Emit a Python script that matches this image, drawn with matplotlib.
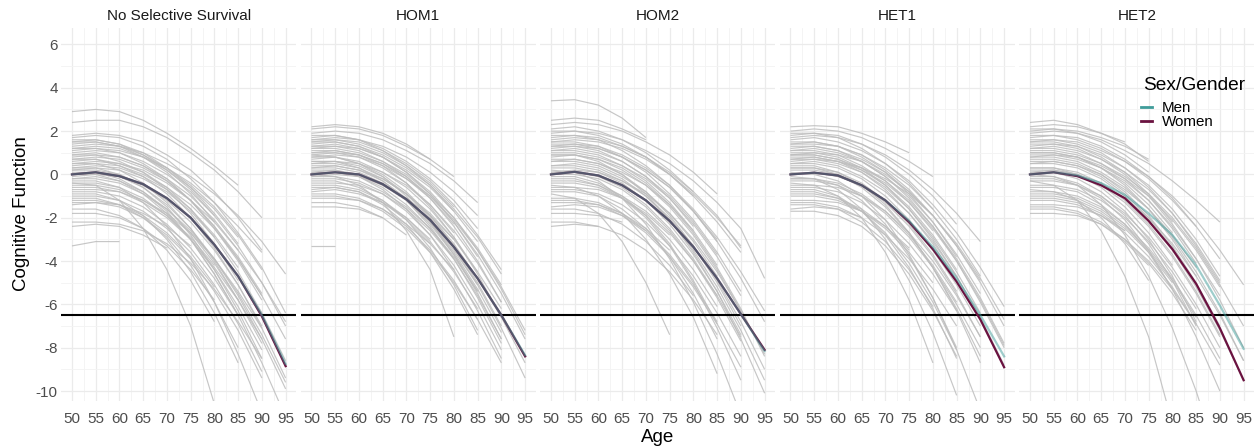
import matplotlib.pyplot as plt
from matplotlib.lines import Line2D
from matplotlib.ticker import MultipleLocator

plt.rcParams['font.family'] = ['Liberation Sans', 'DejaVu Sans']
plt.rcParams['axes.unicode_minus'] = False

# ages at which trajectories are evaluated
ages = [50, 55, 60, 65, 70, 75, 80, 85, 90, 95]
scenarios = ['No Selective Survival', 'HOM1', 'HOM2', 'HET1', 'HET2']
threshold = -6.5

# mean cognitive function by scenario
men_mean = {
    'No Selective Survival': [0.0, 0.1, -0.08, -0.45, -1.1, -2.0, -3.25, -4.7, -6.5, -8.75],
    'HOM1': [0.0, 0.1, 0.0, -0.45, -1.15, -2.1, -3.35, -4.8, -6.5, -8.35],
    'HOM2': [0.0, 0.12, -0.05, -0.5, -1.2, -2.15, -3.35, -4.8, -6.45, -8.15],
    'HET1': [0.0, 0.08, -0.05, -0.5, -1.2, -2.15, -3.35, -4.8, -6.5, -8.4],
    'HET2': [0.0, 0.1, -0.05, -0.4, -0.95, -1.8, -2.8, -4.2, -6.05, -8.05],
}
women_mean = {
    'No Selective Survival': [0.0, 0.1, -0.08, -0.45, -1.1, -2.0, -3.25, -4.7, -6.55, -8.85],
    'HOM1': [0.0, 0.1, 0.0, -0.45, -1.15, -2.1, -3.35, -4.8, -6.5, -8.4],
    'HOM2': [0.0, 0.12, -0.05, -0.5, -1.2, -2.15, -3.35, -4.8, -6.45, -8.1],
    'HET1': [0.0, 0.08, -0.05, -0.5, -1.2, -2.2, -3.45, -4.95, -6.7, -8.9],
    'HET2': [0.0, 0.1, -0.08, -0.5, -1.1, -2.15, -3.45, -5.05, -7.1, -9.5],
}

# individual trajectories (values every 5 years from age 50 until drop-out)
people_no_sel = [
    [2.9, 3.0, 2.9, 2.5, 1.9, 1.2, 0.4, -0.5],
    [2.4, 2.5, 2.5, 2.2, 1.7, 1.0, 0.2, -0.8, -2.0],
    [1.8, 1.9, 1.8, 1.5, 0.9, 0.2, -0.8, -2.0, -3.5],
    [1.7, 1.8, 1.7, 1.3, 0.7, -0.2, -1.3, -2.7, -4.3, -6.4],
    [1.5, 1.6, 1.4, 1.0, 0.3, -0.6, -1.8, -3.2],
    [1.4, 1.5, 1.3, 0.8, 0.1, -0.9, -2.2],
    [1.3, 1.4, 1.3, 1.0, 0.5, -0.1, -0.9, -1.9, -3.1, -4.6],
    [1.2, 1.2, 1.0, 0.5, -0.2, -1.2, -2.5, -4.0, -5.8],
    [1.0, 1.1, 1.0, 0.6, 0.0, -0.8, -1.9, -3.3, -5.0, -7.0],
    [0.9, 0.9, 0.6, 0.1, -0.7, -1.8, -3.2, -4.9],
    [0.8, 0.9, 0.8, 0.4, -0.2, -1.0, -2.1, -3.5],
    [0.6, 0.7, 0.5, 0.1, -0.6, -1.6, -2.9, -4.5, -6.4, -8.6],
    [0.5, 0.5, 0.2, -0.4, -1.3, -2.5, -4.0, -5.8],
    [0.4, 0.5, 0.4, 0.0, -0.6, -1.4, -2.5, -3.9, -5.6],
    [0.3, 0.3, 0.0, -0.6, -1.5, -2.8, -4.4, -6.3, -8.5],
    [0.2, 0.3, 0.2, -0.2, -0.8, -1.7, -2.9],
    [0.1, 0.1, -0.2, -0.8, -1.7, -3.0, -4.6, -6.5, -8.7, -11.2],
    [-0.1, 0.0, -0.1, -0.5, -1.1, -2.0, -3.2, -4.7, -6.4],
    [-0.3, -0.3, -0.6, -1.3, -2.4, -3.9, -5.9, -8.3, -11.0],
    [-0.4, -0.4, -0.6, -1.1, -1.9, -3.0, -4.4, -6.1, -8.1],
    [-0.4, -0.5, -1.2, -2.5, -4.4, -7.0, -10.6, -14.8],
    [-0.6, -0.6, -0.8, -1.3, -2.0, -3.0, -4.3, -5.8, -7.6],
    [-0.8, -0.8, -1.0, -1.5, -2.3, -3.4, -4.8, -6.5],
    [-1.0, -1.0, -1.2, -1.7, -2.5, -3.6, -5.1, -6.9, -9.1],
    [-1.2, -1.2, -1.4, -1.9, -2.7, -3.8, -5.2],
    [-1.4, -1.3, -1.5, -2.0, -2.8, -3.9, -5.4, -7.2, -9.4],
    [-1.6, -1.6, -1.9, -2.5, -3.5, -4.9, -6.8],
    [-2.2, -2.2, -2.3, -2.6, -3.2, -4.1, -5.3, -6.8, -8.5],
    [-2.4, -2.3, -2.4, -2.8, -3.4],
    [-3.3, -3.1, -3.1],
    [1.1, 1.2, 1.1, 0.8, 0.3, -0.4, -1.3, -2.4, -3.6],
    [0.0, 0.1, -0.1, -0.6, -1.4, -2.5, -3.9, -5.6, -7.6, -9.9],
    [-0.2, -0.1, -0.3, -0.8, -1.6, -2.7, -4.1, -5.8, -7.8],
    [0.7, 0.8, 0.7, 0.3, -0.3, -1.2, -2.4, -3.9, -5.6, -7.6],
    [1.6, 1.6, 1.4, 0.9, 0.2, -0.7, -1.9],
    [-0.9, -0.9, -1.2, -1.9, -3.0, -4.5, -6.4, -8.7],
    [1.2, 1.3, 1.2, 0.8, 0.2, -0.6, -1.6, -2.9],
    [0.9, 1.0, 0.8, 0.4, -0.3, -1.2, -2.4, -3.8, -5.5],
    [0.5, 0.6, 0.5, 0.2, -0.4, -1.2, -2.2, -3.5, -5.0, -6.8],
    [0.3, 0.4, 0.3, -0.1, -0.7, -1.6, -2.8, -4.3],
    [0.0, 0.0, -0.3, -0.9, -1.8, -3.0, -4.6, -6.5],
    [-0.2, -0.2, -0.4, -0.9, -1.6, -2.6, -3.9, -5.5, -7.4, -9.6],
    [-0.5, -0.5, -0.7, -1.2, -1.9, -2.9, -4.2],
    [-0.7, -0.7, -0.8, -1.2, -1.8, -2.7, -3.9, -5.4, -7.1],
    [-1.1, -1.1, -1.4, -2.0, -2.9, -4.2, -5.9, -8.0],
    [-1.3, -1.3, -1.4, -1.8, -2.4, -3.3],
    [1.5, 1.5, 1.3, 0.9, 0.3, -0.5, -1.5, -2.8, -4.4],
    [0.7, 0.7, 0.4, -0.1, -0.9, -2.0, -3.4, -5.1, -7.1, -9.4],
    [-1.8, -1.8, -2.0, -2.5, -3.3, -4.4, -5.8],
    [0.2, 0.2, 0.0, -0.5, -1.2, -2.2, -3.5, -5.1, -7.0],
]

people_hom1 = [
    [2.2, 2.3, 2.2, 1.9, 1.4, 0.7],
    [2.1, 2.2, 2.1, 1.8, 1.3, 0.7, -0.1],
    [1.9, 2.0, 1.9, 1.6, 1.1, 0.5, -0.3, -1.3],
    [1.7, 1.8, 1.6, 1.2, 0.6, -0.2, -1.2, -2.5],
    [1.6, 1.6, 1.5, 1.1, 0.5, -0.3, -1.4, -2.8, -4.4],
    [1.5, 1.5, 1.3, 0.8, 0.1, -0.9, -2.2, -3.8],
    [1.4, 1.5, 1.3, 0.9, 0.3, -0.5, -1.6, -2.9, -4.6],
    [1.3, 1.3, 1.1, 0.6, -0.1, -1.1, -2.4, -4.0, -5.9],
    [1.2, 1.3, 1.2, 0.8, 0.2, -0.6, -1.7],
    [1.1, 1.1, 0.9, 0.4, -0.4, -1.5, -2.9, -4.6, -6.6],
    [1.0, 1.0, 0.8, 0.3, -0.4, -1.4, -2.7],
    [0.9, 1.0, 0.9, 0.5, -0.1, -1.0, -2.2, -3.7, -5.5, -7.6],
    [0.8, 0.8, 0.5, 0.0, -0.8, -1.9, -3.3, -5.0, -7.0],
    [0.7, 0.8, 0.6, 0.1, -0.6, -1.6, -2.9, -4.5],
    [0.6, 0.6, 0.4, -0.1, -0.9, -2.0, -3.4, -5.1, -7.1, -9.4],
    [0.5, 0.5, 0.3, -0.2, -0.9, -1.9, -3.2, -4.8, -6.6, -8.7],
    [0.4, 0.4, 0.2, -0.3, -1.1, -2.2, -3.6, -5.3, -7.3],
    [0.3, 0.4, 0.2, -0.2, -0.9, -1.8, -3.0, -4.5, -6.2],
    [0.2, 0.2, -0.1, -0.7, -1.6, -2.8, -4.4, -6.3, -8.5],
    [0.1, 0.2, 0.0, -0.5, -1.2, -2.2, -3.5, -5.1],
    [0.0, -0.1, -0.5, -1.3, -2.6, -4.4, -7.5],
    [-0.2, -0.2, -0.4, -0.9, -1.7, -2.8, -4.2, -6.0, -8.1],
    [-0.3, -0.3, -0.6, -1.2, -2.1, -3.4, -5.1, -7.2],
    [-0.5, -0.5, -0.7, -1.2, -2.0, -3.1, -4.5, -6.2],
    [-0.7, -0.6, -0.8, -1.3, -2.1, -3.2],
    [-0.9, -0.9, -1.1, -1.6, -2.4, -3.5, -4.9, -6.7],
    [-1.1, -1.1, -1.2, -1.6, -2.3, -3.2, -4.4],
    [-1.3, -1.3, -1.5, -2.0, -2.8],
    [-1.5, -1.5, -1.6, -2.0],
    [-3.3, -3.3],
    [1.8, 1.8, 1.6, 1.1, 0.4, -0.5, -1.7, -3.1],
    [0.9, 0.8, 0.5, -0.1, -1.0, -2.2, -3.7, -5.5, -7.6],
    [-0.1, 0.0, -0.1, -0.5, -1.1, -1.9, -3.0],
    [1.3, 1.4, 1.2, 0.8, 0.1, -0.8, -2.0, -3.5, -5.3, -7.4],
    [1.6, 1.7, 1.6, 1.3, 0.8, 0.1, -0.8, -1.9],
    [1.2, 1.2, 1.0, 0.6, 0.0, -0.9, -2.0, -3.4, -5.1],
    [1.0, 1.1, 0.9, 0.5, -0.2, -1.1, -2.3],
    [0.8, 0.9, 0.8, 0.4, -0.2, -1.0, -2.1, -3.5, -5.2, -7.2],
    [0.5, 0.6, 0.5, 0.1, -0.5, -1.4, -2.6, -4.1, -5.9],
    [0.3, 0.3, 0.1, -0.4, -1.2, -2.3, -3.7, -5.4],
    [0.1, 0.1, -0.1, -0.6, -1.4, -2.5, -3.9, -5.6, -7.6],
    [-0.1, -0.1, -0.3, -0.8, -1.5, -2.5, -3.8, -5.4],
    [-0.4, -0.4, -0.5, -0.9, -1.6, -2.6, -3.9],
    [-0.6, -0.6, -0.8, -1.4, -2.3, -3.6, -5.3, -7.4],
    [-0.8, -0.7, -0.9, -1.3, -2.0, -3.0],
    [-1.0, -1.0, -1.2, -1.7, -2.5, -3.6, -5.0, -6.7, -8.7],
    [1.5, 1.6, 1.4, 1.0, 0.4, -0.4, -1.5],
    [0.6, 0.6, 0.3, -0.3, -1.2, -2.4, -3.9, -5.7, -7.8],
]

people_hom2 = [
    [3.4, 3.45, 3.2, 2.6, 1.7],
    [2.5, 2.6, 2.5, 2.1, 1.6],
    [2.3, 2.4, 2.3, 2.0, 1.5, 0.9, 0.1, -0.9],
    [2.1, 2.2, 2.0, 1.6, 1.0, 0.2, -0.8],
    [1.9, 2.0, 1.9, 1.6, 1.1, 0.5, -0.3, -1.3, -2.5, -4.8],
    [1.8, 1.8, 1.6, 1.1, 0.4, -0.5, -1.7, -3.1],
    [1.6, 1.7, 1.6, 1.3, 0.8, 0.1, -0.8, -1.9, -3.4],
    [1.5, 1.5, 1.3, 0.8, 0.1, -0.9, -2.1, -3.6, -5.4],
    [1.4, 1.4, 1.2, 0.8, 0.2, -0.6, -1.7, -3.0],
    [1.2, 1.3, 1.2, 0.8, 0.2, -0.6, -1.7, -3.1, -4.8, -6.8],
    [1.1, 1.1, 0.9, 0.4, -0.3, -1.3, -2.6, -4.2],
    [1.0, 1.0, 0.8, 0.4, -0.2, -1.1, -2.3, -3.8, -5.6],
    [0.8, 0.9, 0.7, 0.3, -0.4, -1.4, -2.7, -4.3, -6.2, -8.4],
    [0.7, 0.7, 0.5, 0.0, -0.8, -1.9, -3.3, -5.0, -7.0],
    [0.6, 0.6, 0.4, -0.1, -0.8, -1.8, -3.1, -4.7],
    [0.4, 0.5, 0.3, -0.2, -1.0, -2.1, -3.5, -5.2, -7.2, -9.5],
    [0.3, 0.3, 0.1, -0.4, -1.2, -2.3, -3.7, -5.4, -7.4],
    [0.2, 0.1, -0.3, -1.1, -2.3, -3.9, -5.9, -8.3, -11.1],
    [0.0, 0.0, -0.2, -0.7, -1.5, -2.6, -4.0, -5.7, -7.7],
    [-0.2, -0.2, -0.5, -1.1, -2.0, -3.3, -5.0, -7.1, -9.5],
    [-0.4, -0.4, -0.6, -1.1, -1.9, -3.0, -4.4, -6.1],
    [-0.5, -0.6, -1.0, -1.8, -3.0, -4.6, -6.6, -9.2],
    [-0.7, -0.7, -0.9, -1.4, -2.2, -3.3, -4.7, -6.4, -8.4],
    [-0.9, -1.1, -1.8, -3.1, -5.0, -7.4],
    [-1.1, -1.1, -1.3, -1.8, -2.6, -3.7, -5.1, -6.8],
    [-1.3, -1.3, -1.4, -1.8, -2.5, -3.5],
    [-1.6, -1.6, -1.8, -2.3, -3.1, -4.2, -5.6],
    [-1.8, -1.8, -1.9, -2.2],
    [-2.2, -2.2, -2.4],
    [-2.4, -2.3, -2.4, -2.8, -3.5, -4.5, -5.8, -7.4],
    [0.9, 0.9, 0.6, 0.0, -0.9, -2.1, -3.6, -5.4, -7.6, -10.1],
    [0.1, 0.2, 0.1, -0.3, -0.9, -1.8, -3.0, -4.5, -6.3, -8.3],
    [1.3, 1.3, 1.1, 0.6, -0.1, -1.1, -2.4],
    [-0.1, -0.1, -0.4, -1.0, -1.9, -3.2, -4.9, -6.9],
    [2.0, 2.0, 1.8, 1.4, 0.8, 0.0, -1.0, -2.2, -3.6],
    [1.7, 1.8, 1.7, 1.3, 0.8, 0.0, -1.0],
    [1.3, 1.4, 1.3, 0.9, 0.3, -0.5, -1.6, -2.9, -4.5, -6.3],
    [1.1, 1.2, 1.0, 0.6, -0.1, -1.0, -2.2, -3.7],
    [0.9, 0.9, 0.7, 0.2, -0.5, -1.5, -2.8, -4.4, -6.3],
    [0.6, 0.7, 0.5, 0.1, -0.5, -1.4, -2.6],
    [0.4, 0.4, 0.2, -0.3, -1.0, -2.0, -3.3, -4.9, -6.8, -9.0],
    [0.1, 0.1, -0.1, -0.6, -1.4, -2.5, -3.9, -5.6],
    [-0.3, -0.3, -0.5, -1.0, -1.7, -2.7, -4.0, -5.6, -7.5],
    [-0.6, -0.6, -0.7, -1.1, -1.8, -2.8],
    [-0.8, -0.8, -1.0, -1.6, -2.5, -3.8, -5.5, -7.6],
    [-1.2, -1.2, -1.4, -1.9, -2.7, -3.8, -5.2, -6.9, -8.9],
    [-1.5, -1.4, -1.5, -1.9, -2.6],
    [1.5, 1.6, 1.5, 1.2, 0.7, 0.0, -0.9, -2.0, -3.3],
]

people_het1 = [
    [2.2, 2.25, 2.2, 1.9, 1.5, 1.0],
    [2.0, 2.1, 2.0, 1.7, 1.2, 0.6, -0.1],
    [1.8, 1.9, 1.8, 1.4, 0.8, 0.0, -1.0, -2.3],
    [1.6, 1.7, 1.5, 1.1, 0.5, -0.3, -1.4, -2.7, -4.3, -6.1],
    [1.5, 1.5, 1.3, 0.8, 0.1, -0.9, -2.2, -3.8],
    [1.4, 1.4, 1.3, 0.9, 0.3, -0.5, -1.6, -3.0, -4.7],
    [1.2, 1.3, 1.1, 0.6, -0.1, -1.1, -2.4, -4.0, -5.9, -8.0],
    [1.1, 1.1, 0.9, 0.4, -0.3, -1.3, -2.6],
    [1.0, 1.0, 0.8, 0.3, -0.5, -1.6, -3.0, -4.7, -6.7],
    [0.9, 0.9, 0.7, 0.3, -0.3, -1.2, -2.4, -3.9, -5.7, -7.8],
    [0.8, 0.8, 0.6, 0.1, -0.7, -1.8, -3.2, -4.9],
    [0.7, 0.7, 0.5, 0.1, -0.6, -1.6, -2.9, -4.5, -6.4],
    [0.5, 0.6, 0.4, -0.1, -0.8, -1.8, -3.1, -4.7, -6.6, -8.8],
    [0.4, 0.4, 0.1, -0.5, -1.4, -2.7, -4.3, -6.3, -8.7],
    [0.3, 0.3, 0.1, -0.4, -1.2, -2.3, -3.7, -5.4],
    [0.2, 0.2, 0.0, -0.5, -1.3, -2.4, -3.8, -5.5, -7.5],
    [-0.1, -0.2, -0.7, -1.6, -3.0, -4.9, -7.3, -10.2],
    [0.1, 0.0, -0.3, -1.0, -2.1, -3.7, -5.7, -8.1, -10.9],
    [-0.3, -0.3, -0.5, -1.0, -1.8, -2.9, -4.3, -6.0, -8.0],
    [-0.4, -0.5, -1.0, -2.0, -3.6, -5.8, -8.7],
    [-0.6, -0.6, -0.8, -1.3, -2.1, -3.2, -4.6, -6.3],
    [-0.8, -0.8, -1.1, -1.7, -2.7, -4.1, -5.9, -8.1],
    [-1.0, -1.0, -1.2, -1.7, -2.5, -3.6, -5.0],
    [-1.2, -1.2, -1.3, -1.7, -2.4, -3.4],
    [-1.4, -1.4, -1.6, -2.2, -3.1, -4.4, -6.1],
    [-1.6, -1.5, -1.6, -2.0],
    [-1.7, -1.7, -1.9, -2.4, -3.3, -4.6, -6.3, -8.4],
    [1.9, 1.9, 1.7, 1.2, 0.5, -0.4, -1.6],
    [0.6, 0.7, 0.6, 0.3, -0.2, -0.9, -1.9, -3.2, -4.8, -6.7],
    [1.3, 1.3, 1.1, 0.7, 0.1, -0.8, -1.9, -3.3, -4.9],
    [-0.2, -0.2, -0.5, -1.2, -2.3, -3.8, -5.7, -8.0],
    [0.9, 1.0, 0.9, 0.6, 0.0, -0.8, -1.9, -3.3, -5.0, -7.0],
    [1.7, 1.8, 1.7, 1.4, 0.9, 0.2, -0.7, -1.8, -3.1],
    [1.4, 1.5, 1.3, 0.9, 0.2, -0.7, -1.9],
    [1.1, 1.2, 1.0, 0.6, -0.1, -1.0, -2.2, -3.7, -5.5],
    [0.9, 0.9, 0.7, 0.2, -0.5, -1.5, -2.8, -4.4],
    [0.7, 0.8, 0.6, 0.2, -0.4, -1.3, -2.5, -4.0, -5.8, -7.9],
    [0.5, 0.5, 0.3, -0.2, -1.0, -2.1, -3.5],
    [0.3, 0.3, 0.0, -0.6, -1.5, -2.7, -4.3, -6.2, -8.4],
    [0.0, 0.1, -0.1, -0.5, -1.2, -2.2, -3.5, -5.1, -7.0],
    [-0.2, -0.2, -0.4, -0.9, -1.7, -2.8, -4.2, -5.9],
    [-0.5, -0.5, -0.6, -1.0, -1.7, -2.7, -4.0, -5.6, -7.5],
    [-0.7, -0.7, -1.0, -1.7, -2.8, -4.3, -6.2, -8.5],
    [-0.9, -0.9, -1.1, -1.6, -2.4, -3.5],
    [-1.3, -1.3, -1.5, -2.0, -2.8, -3.9, -5.3, -7.0],
]

people_het2 = [
    [2.4, 2.5, 2.3, 1.9, 1.5],
    [2.2, 2.3, 2.2, 1.9, 1.4, 0.6],
    [1.9, 2.0, 1.9, 1.6, 1.1, 0.5, -0.3, -1.2, -2.2],
    [1.7, 1.8, 1.7, 1.3, 0.7, -0.1, -1.1, -2.4, -3.9],
    [1.6, 1.6, 1.4, 1.0, 0.3, -0.6, -1.8, -3.3, -5.0],
    [1.5, 1.5, 1.3, 0.8, 0.1, -0.9, -2.2],
    [1.3, 1.4, 1.3, 0.9, 0.3, -0.5, -1.6, -3.0, -4.7],
    [1.2, 1.2, 1.0, 0.5, -0.2, -1.2, -2.5, -4.1],
    [1.1, 1.1, 0.9, 0.5, -0.1, -0.9, -2.0, -3.4, -5.1, -7.0],
    [1.0, 1.0, 0.8, 0.3, -0.5, -1.6, -3.0, -4.7],
    [0.8, 0.9, 0.7, 0.3, -0.3, -1.2, -2.4, -3.9, -5.6],
    [0.7, 0.7, 0.5, 0.0, -0.8, -1.9, -3.3, -5.0, -7.0],
    [0.6, 0.6, 0.4, -0.1, -0.9, -2.0, -3.4, -5.1],
    [0.5, 0.5, 0.3, -0.2, -1.0, -2.1, -3.5, -5.2, -7.2, -9.5],
    [0.3, 0.3, 0.0, -0.6, -1.5, -2.7, -4.2],
    [0.2, 0.2, 0.0, -0.5, -1.3, -2.4, -3.8, -5.5, -7.5],
    [0.0, -0.1, -0.5, -1.4, -2.8, -4.7, -7.1, -10.0, -13.4],
    [-0.3, -0.5, -1.2, -2.6, -4.7, -7.5, -11.5],
    [-0.2, -0.2, -0.5, -1.1, -2.1, -3.5, -5.3, -7.5, -10.0],
    [-0.5, -0.5, -0.7, -1.2, -2.0, -3.1, -4.5, -6.2],
    [-0.7, -0.8, -1.2, -2.0, -3.2, -4.9],
    [-0.8, -0.8, -1.0, -1.5, -2.3, -3.4, -4.8, -6.5, -8.5],
    [-1.0, -1.0, -1.2, -1.7, -2.5, -3.6, -5.0],
    [-1.2, -1.2, -1.4, -1.9, -2.7, -3.8, -5.2, -6.9],
    [-1.4, -1.4, -1.5, -1.9, -2.6],
    [-1.6, -1.6, -1.8, -2.3, -3.1, -4.2],
    [-1.8, -1.8, -1.9, -2.3, -3.0, -4.0, -5.3, -6.9, -8.8],
    [1.4, 1.4, 1.2, 0.7, 0.0, -1.0, -2.3, -3.9, -5.8, -8.0],
    [0.9, 0.9, 0.8, 0.4, -0.2, -1.0, -2.1, -3.5, -5.2],
    [0.1, 0.2, 0.0, -0.4, -1.1, -2.0, -3.2, -4.7, -6.5, -8.6],
    [-0.1, -0.1, -0.4, -1.0, -1.9, -3.2, -4.9, -7.0],
    [2.0, 2.1, 2.0, 1.7, 1.3, 0.7],
    [1.8, 1.8, 1.6, 1.2, 0.6, -0.2, -1.2, -2.4],
    [1.5, 1.6, 1.5, 1.1, 0.6, -0.1, -1.0, -2.1, -3.5, -5.1],
    [1.2, 1.3, 1.1, 0.7, 0.1, -0.7, -1.8, -3.2, -4.9],
    [1.0, 1.0, 0.8, 0.3, -0.4, -1.4, -2.7],
    [0.8, 0.8, 0.6, 0.1, -0.6, -1.6, -2.9, -4.5, -6.4, -8.6],
    [0.5, 0.6, 0.4, 0.0, -0.7, -1.6, -2.8, -4.3],
    [0.3, 0.3, 0.1, -0.4, -1.2, -2.3, -3.7, -5.4, -7.4],
    [0.1, 0.1, -0.2, -0.8, -1.7, -3.0, -4.7, -6.8],
    [-0.3, -0.3, -0.5, -1.0, -1.8, -2.9, -4.3, -6.0, -8.0],
    [-0.6, -0.6, -0.8, -1.4, -2.3, -3.6, -5.3],
    [-0.9, -0.9, -1.1, -1.6, -2.4, -3.5, -4.9, -6.6],
    [-1.1, -1.1, -1.3, -1.8, -2.6],
    [-1.5, -1.5, -1.7, -2.2, -3.0, -4.1, -5.5, -7.2],
    [2.1, 2.1, 1.9, 1.5, 0.9, 0.1],
]

people = {
    'No Selective Survival': people_no_sel,
    'HOM1': people_hom1,
    'HOM2': people_hom2,
    'HET1': people_het1,
    'HET2': people_het2,
}

men_color = '#3f9c99'
women_color = '#6a1240'

W, H = 1257, 447
fig = plt.figure(figsize=(W / 100, H / 100), dpi=100)

# facet geometry in pixels
left0, panel_w, step = 61.3, 235.0, 239.5
top, bottom = 28, 401

for i, name in enumerate(scenarios):
    ax = fig.add_axes([(left0 + i * step) / W, 1 - bottom / H,
                       panel_w / W, (bottom - top) / H])

    for traj in people[name]:
        ax.plot(ages[:len(traj)], traj, color='#bdbdbd', lw=0.85, alpha=0.85,
                solid_capstyle='butt', zorder=2)

    ax.axhline(threshold, color='black', lw=1.5, zorder=3)
    ax.plot(ages, women_mean[name], color=women_color, lw=1.6, zorder=4)
    ax.plot(ages, men_mean[name], color=men_color, lw=1.6, alpha=0.5, zorder=5)

    ax.set_xlim(47.75, 97.25)
    ax.set_ylim(-10.46, 6.76)
    ax.xaxis.set_major_locator(MultipleLocator(5))
    ax.xaxis.set_minor_locator(MultipleLocator(2.5))
    ax.yaxis.set_major_locator(MultipleLocator(2))
    ax.yaxis.set_minor_locator(MultipleLocator(1))
    ax.grid(which='major', color='#ebebeb', lw=0.9)
    ax.grid(which='minor', color='#f3f3f3', lw=0.6)
    ax.set_axisbelow(True)
    for sp in ax.spines.values():
        sp.set_visible(False)
    ax.tick_params(which='both', length=0, labelsize=11, labelcolor='#4d4d4d')
    ax.tick_params(axis='x', pad=8)
    ax.tick_params(axis='y', pad=2.5, labelleft=(i == 0))
    ax.set_title(name, fontsize=11, color='#1a1a1a', pad=6)

fig.text(22 / W, 1 - 214 / H, 'Cognitive Function', rotation=90,
         fontsize=13.5, ha='center', va='center')
fig.text(657.8 / W, 1 - 437 / H, 'Age', fontsize=13.5, ha='center', va='center')

# legend sits inside the last facet
fig.text(1143 / W, 1 - 86 / H, 'Sex/Gender', fontsize=13.8, ha='left', va='center')
handles = [Line2D([], [], color=men_color, lw=2),
           Line2D([], [], color=women_color, lw=2)]
fig.legend(handles, ['Men', 'Women'], loc='upper left',
           bbox_to_anchor=(1141 / W, 1 - 101 / H), frameon=False, fontsize=10.9,
           handlelength=0.7, handletextpad=0.7, labelspacing=0.0,
           borderaxespad=0, borderpad=0)

fig.savefig('out.png', dpi=100)
